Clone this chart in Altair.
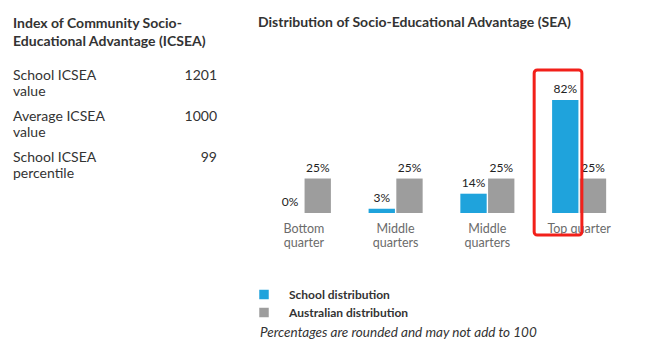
import json
import altair as alt
import pandas as pd

# ---- data ----
quarters = ["Bottom\nquarter", "Middle\nquarters", "Middle\nquarters", "Top quarter"]
series = ["School distribution", "Australian distribution"]
school_pct = [0, 3, 14, 82]
australia_pct = [25, 25, 25, 25]
icsea_labels = ["School ICSEA\nvalue", "Average ICSEA\nvalue", "School ICSEA\npercentile"]
icsea_values = ["1201", "1000", "99"]
highlight_quarter = 3

left_title = "Index of Community Socio-\nEducational Advantage (ICSEA)"
chart_title = "Distribution of Socio-Educational Advantage (SEA)"
footnote = "Percentages are rounded and may not add to 100"

# ---- layout / style ----
FONT = "Lato"
W, H = 367, 153
PL, PT = 258, 60
BLUE, GRAY, RED = "#1fa3dc", "#9d9d9d", "#f2201a"
DARK = "#333333"

rows = []
for i in range(len(quarters)):
    rows.append({"q": i, "series": series[0], "pct": school_pct[i], "label": f"{school_pct[i]}%"})
    rows.append({"q": i, "series": series[1], "pct": australia_pct[i], "label": f"{australia_pct[i]}%"})
df = pd.DataFrame(rows)

label_expr = "split(" + json.dumps(quarters) + "[datum.value], '\\n')"

x_enc = alt.X(
    "q:O",
    scale=alt.Scale(domain=list(range(len(quarters))), paddingInner=0, paddingOuter=0),
    axis=alt.Axis(
        title=None, labelExpr=label_expr, labelAngle=0, domain=False, ticks=False,
        labelPadding=9, labelFont=FONT, labelFontSize=12.5, labelColor="#6b6b6b",
        labelLineHeight=14, grid=False,
    ),
)
xo_enc = alt.XOffset("series:N", scale=alt.Scale(domain=series, paddingInner=0.05, paddingOuter=0.68))
y_enc = alt.Y("pct:Q", scale=alt.Scale(domain=[0, 111], nice=False, zero=True), axis=None)

base = alt.Chart(df)

bars = base.mark_bar().encode(
    x=x_enc,
    xOffset=xo_enc,
    y=y_enc,
    color=alt.Color(
        "series:N",
        scale=alt.Scale(domain=series, range=[BLUE, GRAY]),
        legend=alt.Legend(
            title=None, orient="none", legendX=0, legendY=228.5,
            symbolType="square", symbolSize=90, symbolStrokeWidth=0,
            labelFont=FONT, labelFontSize=12, labelFontWeight="bold", labelColor=DARK,
            labelOffset=19, rowPadding=6, padding=0,
        ),
    ),
)

labels = base.mark_text(dy=-11, baseline="middle", font=FONT, fontSize=12, color="#222222").encode(
    x=x_enc, xOffset=xo_enc, y=y_enc, text="label:N"
)

box_df = pd.DataFrame([{"q": highlight_quarter, "top": 103.8, "bottom": -16.0}])
box = alt.Chart(box_df).mark_rect(
    fillOpacity=0, stroke=RED, strokeWidth=3, cornerRadius=3
).encode(
    x=alt.X("q:O", bandPosition=0.01),
    x2=alt.X2("q", bandPosition=0.53),
    y=alt.Y("top:Q"),
    y2=alt.Y2("bottom"),
)

# ---- text panels ----
text_df = pd.DataFrame({"t": [0]})

def txt(s, x, y, **kw):
    return alt.Chart(text_df).mark_text(
        font=FONT, lineBreak="\n", baseline="alphabetic", color=DARK, **kw
    ).encode(x=alt.value(x - PL), y=alt.value(y - PT), text=alt.value(s))

layers = [bars, labels, box]
layers.append(txt(left_title, 13, 28, align="left", fontSize=14, fontWeight="bold", lineHeight=17.5))
layers.append(txt(chart_title, 258, 26.5, align="left", fontSize=14, fontWeight="bold"))
baselines = [79.5, 120.5, 161.5]
for lab, val, yb in zip(icsea_labels, icsea_values, baselines):
    layers.append(txt(lab, 13, yb, align="left", fontSize=14, lineHeight=16))
    layers.append(txt(val, 217, yb, align="right", fontSize=14))
layers.append(txt(footnote, 260, 336.5, align="left", fontSize=13.5, fontStyle="italic"))

chart = alt.layer(*layers).properties(
    width=W, height=H,
    autosize=alt.AutoSizeParams(type="none"),
    padding={"left": PL, "top": PT, "right": 652 - PL - W, "bottom": 351 - PT - H},
    background="white",
).configure_view(stroke=None)

chart.save("out.html", embed_options={"renderer": "svg", "actions": False})
